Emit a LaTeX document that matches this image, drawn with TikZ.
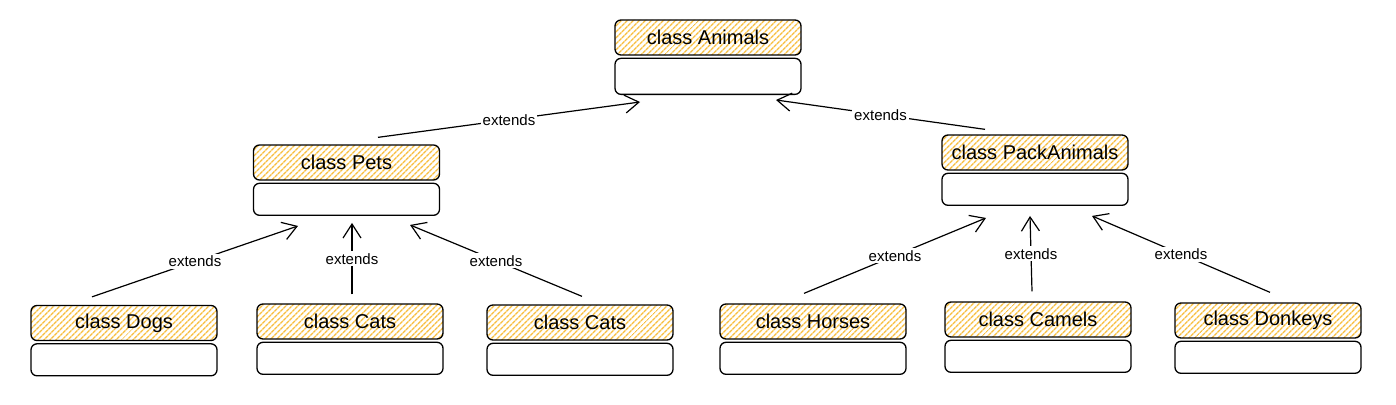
\documentclass[tikz,border=0pt]{standalone}
\usepackage{fontspec}
\setmainfont{Liberation Sans}
\usetikzlibrary{positioning}
\usetikzlibrary{arrows.meta}
\usetikzlibrary{patterns.meta}
\definecolor{hatch}{RGB}{248,190,62}

\begin{document}
\begin{tikzpicture}[x=1pt, y=-1pt,
  head/.style={draw, line width=1.3pt, rounded corners=6pt,
    minimum width=186pt, minimum height=35pt, inner sep=0pt,
    pattern={Lines[angle=45, distance=4pt, line width=1.4pt]},
    pattern color=hatch, font=\fontsize{20}{23}\selectfont},
  body/.style={draw, line width=1.3pt, rounded corners=6pt,
    minimum width=186pt, minimum height=32pt, inner sep=0pt},
  ext/.style={-{Straight Barb[length=14pt, width=18pt]}, line width=1.2pt},
  lbl/.style={fill=white, inner sep=2pt, font=\fontsize{15}{18}\selectfont}]
  % page
  \fill[white] (0,0) rectangle (1396,404);
  \useasboundingbox (0,0) rectangle (1396,404);
  % top class
  \node[head] (animals) at (708,37.5) {class Animals};
  \node[body, minimum height=36pt, below=2pt of animals] (animals-b) {};
  % middle classes
  \node[head] (pets) at (346.5,162.5) {class Pets};
  \node[body, below=2pt of pets] (pets-b) {};
  \node[head] (pack) at (1035,152.5) {class PackAnimals};
  \node[body, below=2pt of pack] (pack-b) {};
  % bottom classes
  \foreach \n/\x/\y/\t in {dogs/124/323/Dogs, catsA/350/321.5/Cats,
      catsB/580/322.5/Cats, horses/813/321.5/Horses,
      camels/1038/319.5/Camels, donkeys/1268/320.5/Donkeys} {
    \node[head] (\n) at (\x,\y) {class \t};
    \node[body, below=2pt of \n] (\n-b) {};
  }
  % extends, upper level
  \draw[ext] ([xshift=31.5pt, yshift=7pt]pets.north)
    -- node[lbl] {extends} ([xshift=-68pt, yshift=-7pt]animals-b.south);
  \draw[ext] ([xshift=-50pt, yshift=5pt]pack.north)
    -- node[lbl] {extends} ([xshift=68pt, yshift=-5pt]animals-b.south);
  % extends, to Pets
  \draw[ext] ([xshift=-32pt, yshift=8pt]dogs.north)
    -- node[lbl] {extends} ([xshift=-48.5pt, yshift=-10pt]pets-b.south);
  \draw[ext] ([xshift=2pt, yshift=9pt]catsA.north)
    -- node[lbl] {extends} ([xshift=5.5pt, yshift=-7pt]pets-b.south);
  \draw[ext] ([xshift=2pt, yshift=8pt]catsB.north)
    -- node[lbl] {extends} ([xshift=63.5pt, yshift=-9pt]pets-b.south);
  % extends, to PackAnimals
  \draw[ext] ([xshift=-9pt, yshift=10pt]horses.north)
    -- node[lbl] {extends} ([xshift=-49pt, yshift=-12pt]pack-b.south);
  \draw[ext] ([xshift=-6pt, yshift=10pt]camels.north)
    -- node[lbl] {extends} ([xshift=-5pt, yshift=-10pt]pack-b.south);
  \draw[ext] ([xshift=2pt, yshift=10pt]donkeys.north)
    -- node[lbl] {extends} ([xshift=57pt, yshift=-10pt]pack-b.south);
\end{tikzpicture}
\end{document}
